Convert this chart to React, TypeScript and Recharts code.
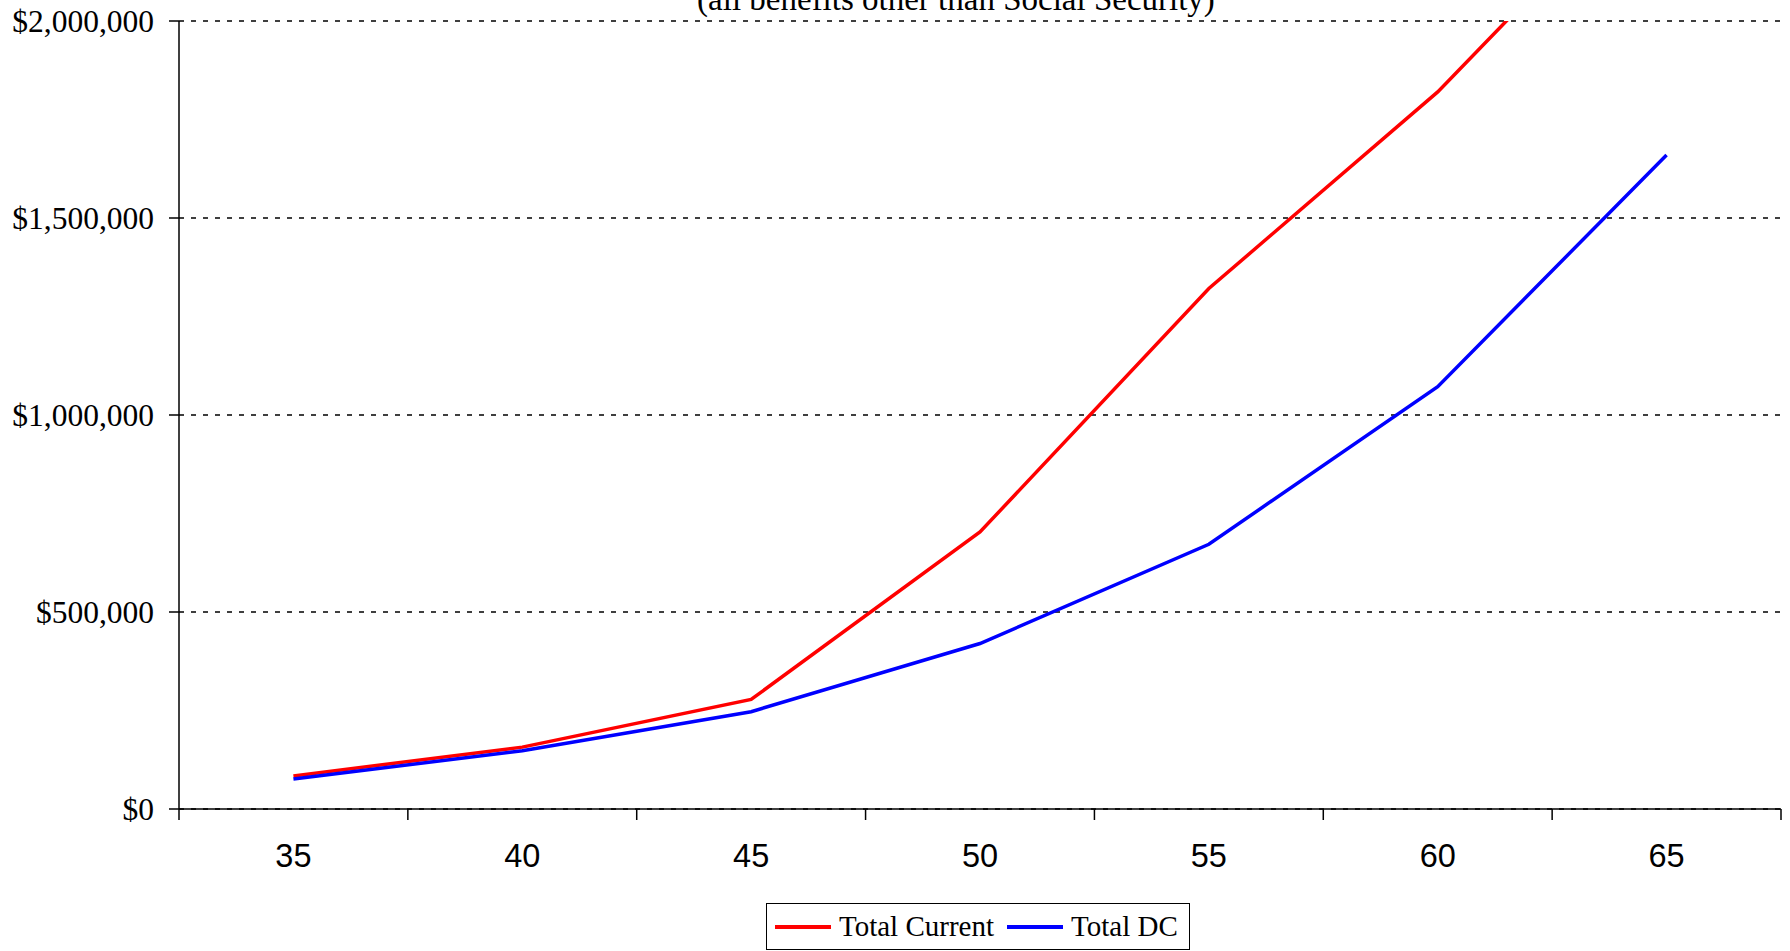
import {
  LineChart,
  Line,
  XAxis,
  YAxis,
  CartesianGrid,
  Legend,
} from 'recharts';

// Age at which the benefit is measured
const ages = [35, 40, 45, 50, 55, 60, 65];
// Value of all benefits other than Social Security
const totalCurrent = [84000, 157000, 278000, 703000, 1321000, 1820000, 2420000];
const totalDC = [76000, 148000, 247000, 420000, 672000, 1072000, 1660000];

const yTicks = [0, 500000, 1000000, 1500000, 2000000];
// Tick marks sit on the boundaries between ages
const ageBoundaries = [32.5, 37.5, 42.5, 47.5, 52.5, 57.5, 62.5, 67.5];

const SERIES = [
  { key: 'current', label: 'Total Current', color: '#FF0000' },
  { key: 'dc', label: 'Total DC', color: '#0000FF' },
];

const data = ages.map((age, i) => ({
  age,
  current: totalCurrent[i],
  dc: totalDC[i],
}));

const SERIF = '"Liberation Serif", "Times New Roman", serif';
const SANS = '"Liberation Sans", Arial, sans-serif';

// axis 0 draws the line and boundary ticks, axis 1 the age labels underneath
const MARKS_AXIS = 0;
const LABELS_AXIS = 1;

const formatDollars = (v: number) => `$${v.toLocaleString('en-US')}`;

// Boxed legend with a line sample before each label
const BoxLegend = () => (
  <div
    style={{
      boxSizing: 'border-box',
      height: 47,
      border: '1.5px solid #000',
      background: '#fff',
      display: 'flex',
      alignItems: 'center',
      paddingLeft: 8,
      fontFamily: SERIF,
      fontSize: 29,
      color: '#000',
      whiteSpace: 'nowrap',
    }}
  >
    {SERIES.map((s, i) => (
      <div
        key={s.key}
        style={{ display: 'flex', alignItems: 'center', marginLeft: i === 0 ? 0 : 13 }}
      >
        <div style={{ width: 56, height: 4, background: s.color, marginRight: 8 }} />
        <span>{s.label}</span>
      </div>
    ))}
  </div>
);

export default function App() {
  return (
    <div
      style={{
        position: 'fixed',
        left: 0,
        top: 0,
        width: 1790,
        height: 951,
        background: '#fff',
        overflow: 'hidden',
      }}
    >
      <div
        style={{
          position: 'absolute',
          left: 456,
          top: -17,
          width: 1000,
          textAlign: 'center',
          fontFamily: SERIF,
          fontSize: 33,
          lineHeight: '33px',
          color: '#000',
          zIndex: 1,
        }}
      >
        (all benefits other than Social Security)
      </div>
      <LineChart
        width={1790}
        height={951}
        data={data}
        margin={{ top: 21, right: 9, left: 0, bottom: 1 }}
      >
        <CartesianGrid
          xAxisId={MARKS_AXIS}
          vertical={false}
          stroke="#000"
          strokeWidth={1.5}
          strokeDasharray="5 7"
        />
        <XAxis
          xAxisId={MARKS_AXIS}
          dataKey="age"
          type="number"
          domain={[32.5, 67.5]}
          ticks={ageBoundaries}
          interval={0}
          tickFormatter={() => ''}
          height={1}
          tickSize={11}
          axisLine={{ stroke: '#000', strokeWidth: 1.5 }}
          tickLine={{ stroke: '#000', strokeWidth: 1.5 }}
        />
        <XAxis
          xAxisId={LABELS_AXIS}
          dataKey="age"
          type="number"
          domain={[32.5, 67.5]}
          ticks={ages}
          interval={0}
          height={93}
          axisLine={false}
          tickLine={false}
          tickSize={0}
          tickMargin={34}
          tick={{ fill: '#000', fontFamily: SANS, fontSize: 32.5 }}
        />
        <YAxis
          domain={[0, 2000000]}
          allowDataOverflow
          ticks={yTicks}
          tickFormatter={formatDollars}
          width={179}
          tickSize={10}
          tickMargin={15}
          axisLine={{ stroke: '#000', strokeWidth: 1.5 }}
          tickLine={{ stroke: '#000', strokeWidth: 1.5 }}
          tick={{ fill: '#000', fontFamily: SERIF, fontSize: 31.5 }}
        />
        <Legend
          verticalAlign="bottom"
          content={<BoxLegend />}
          wrapperStyle={{ left: 766, width: 424 }}
        />
        {SERIES.map((s) => (
          <Line
            key={s.key}
            xAxisId={LABELS_AXIS}
            type="linear"
            dataKey={s.key}
            name={s.label}
            stroke={s.color}
            strokeWidth={3.5}
            dot={false}
            activeDot={false}
            isAnimationActive={false}
          />
        ))}
      </LineChart>
    </div>
  );
}
